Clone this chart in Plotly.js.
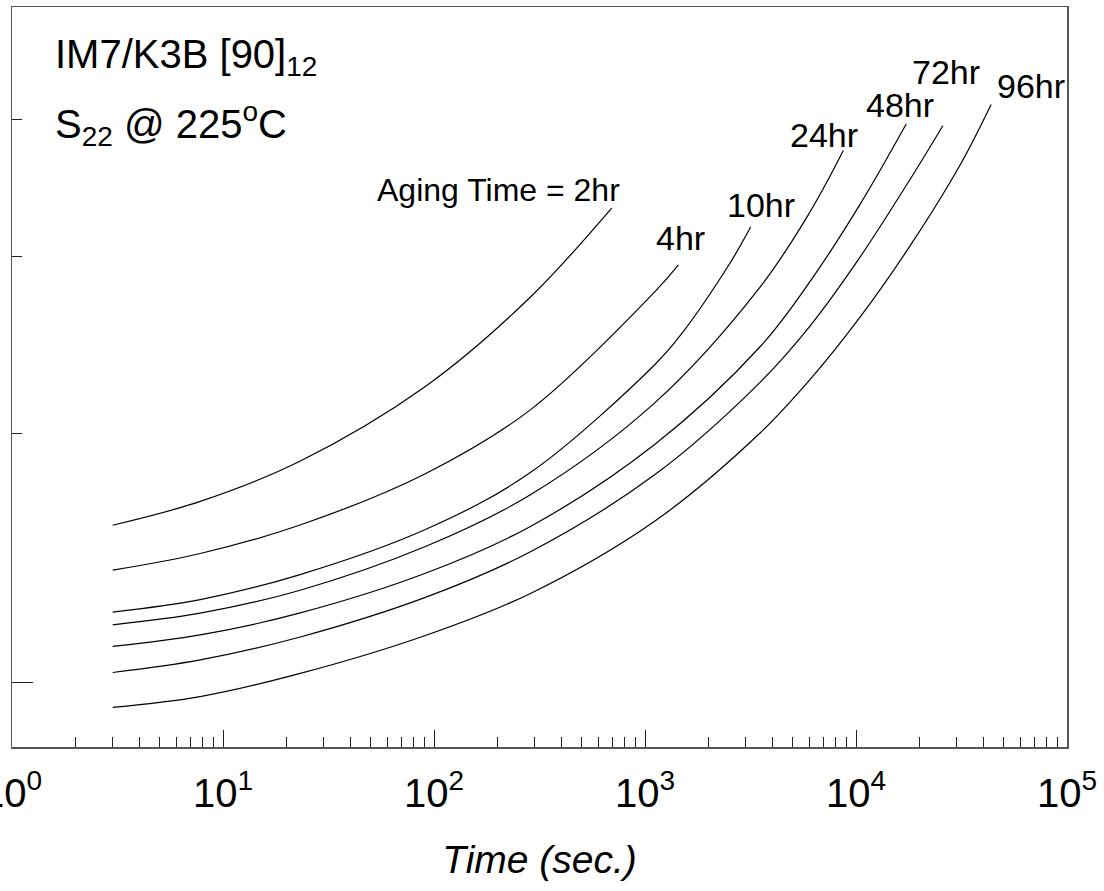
<!DOCTYPE html>
<html>
<head>
<meta charset="utf-8">
<script src="https://cdn.plot.ly/plotly-3.0.1.min.js"></script>
<style>html,body{margin:0;padding:0;background:#fff;}#chart{width:1104px;height:891px;}</style>
</head>
<body>
<div id="chart"></div>
<script>
// Aging times (series names)
const agingLabels = ["2hr", "4hr", "10hr", "24hr", "48hr", "72hr", "96hr"];

// Time (sec.), per curve
const time2hr  = [3, 7.8, 23, 91, 285, 695];
const time4hr  = [3, 7.8, 23, 91, 285, 1115, 1440];
const time10hr = [3, 7.8, 23, 91, 285, 1115, 1470, 2530, 3170];
const time24hr = [3, 7.8, 23, 91, 285, 1115, 3510, 6050, 8710];
const time48hr = [3, 7.8, 23, 91, 285, 1115, 3510, 6050, 10450, 17300];
const time72hr = [3, 7.8, 23, 91, 285, 1115, 3510, 6050, 10450, 18000, 25800];
const time96hr = [3, 7.8, 23, 91, 285, 1115, 3510, 6050, 10450, 18000, 31100, 43700];

// Compliance S22 (arbitrary units, log axis)
const s2hr  = [1.291, 1.342, 1.432, 1.618, 1.870, 2.163];
const s4hr  = [1.200, 1.233, 1.291, 1.404, 1.557, 1.888, 1.972];
const s10hr = [1.121, 1.144, 1.191, 1.282, 1.406, 1.677, 1.758, 1.978, 2.098];
const s24hr = [1.098, 1.119, 1.161, 1.247, 1.356, 1.576, 1.902, 2.149, 2.375];
const s48hr = [1.060, 1.080, 1.119, 1.194, 1.288, 1.473, 1.726, 1.919, 2.176, 2.480];
const s72hr = [1.016, 1.037, 1.076, 1.148, 1.236, 1.402, 1.629, 1.785, 1.997, 2.265, 2.473];
const s96hr = [0.960, 0.977, 1.014, 1.079, 1.155, 1.300, 1.500, 1.636, 1.811, 2.033, 2.319, 2.560];

// Axis ticks
const xTickVals = [1, 10, 100, 1000, 10000, 100000];
const xTickText = ["10<sup>0</sup>", "10<sup>1</sup>", "10<sup>2</sup>", "10<sup>3</sup>", "10<sup>4</sup>", "10<sup>5</sup>"];
const yMajorTicks = [1.0];
const yMinorTicks = [1.5, 2.0, 2.5];

const times = [time2hr, time4hr, time10hr, time24hr, time48hr, time72hr, time96hr];
const vals = [s2hr, s4hr, s10hr, s24hr, s48hr, s72hr, s96hr];

const traces = times.map((t, i) => ({
  x: t, y: vals[i], type: "scatter", mode: "lines", name: agingLabels[i],
  line: {color: "#000", width: 1.2, shape: "spline", smoothing: 1.0},
  hoverinfo: "skip"
}));

const xMinor = [];
for (let d = 0; d < 5; d++) for (let k = 2; k <= 9; k++) xMinor.push(k * Math.pow(10, d));

const FONT = "Liberation Sans, Arial, Helvetica, sans-serif";

// label placements (paper coordinates)
const labelPos = [
  {text: "Aging Time = " + agingLabels[0], x: 0.3441, y: 0.7527, size: 32},
  {text: agingLabels[1], x: 0.6085, y: 0.6872, size: 34},
  {text: agingLabels[2], x: 0.6758, y: 0.7331, size: 34},
  {text: agingLabels[3], x: 0.7355, y: 0.8264, size: 34},
  {text: agingLabels[4], x: 0.8076, y: 0.8682, size: 34},
  {text: agingLabels[5], x: 0.8512, y: 0.9115, size: 34},
  {text: agingLabels[6], x: 0.9318, y: 0.8926, size: 34}
];

const annotations = labelPos.map(p => ({
  text: p.text, xref: "paper", yref: "paper", x: p.x, y: p.y,
  xanchor: "left", yanchor: "middle", showarrow: false,
  font: {family: FONT, size: p.size, color: "#000"}
}));
annotations.push({
  text: "IM7/K3B [90]<sub>12</sub>", xref: "paper", yref: "paper", x: 0.039, y: 0.9324,
  xanchor: "left", yanchor: "middle", showarrow: false,
  font: {family: FONT, size: 40, color: "#000"}
});
annotations.push({
  text: "S<sub>22</sub> @ 225<sup>o</sup>C", xref: "paper", yref: "paper", x: 0.039, y: 0.8425,
  xanchor: "left", yanchor: "middle", showarrow: false,
  font: {family: FONT, size: 40, color: "#000"}
});

const layout = {
  width: 1104, height: 891,
  margin: {l: 12, r: 37, t: 7, b: 144},
  paper_bgcolor: "#fff", plot_bgcolor: "#fff",
  showlegend: false,
  font: {family: FONT, color: "#000"},
  xaxis: {
    type: "log", range: [0, 5], autorange: false,
    showgrid: false, zeroline: false,
    showline: true, linecolor: "#555", linewidth: 1.5, mirror: true,
    ticks: "inside", ticklen: 17, tickwidth: 1, tickcolor: "#222",
    tickmode: "array", tickvals: xTickVals, ticktext: xTickText,
    tickfont: {family: FONT, size: 40, color: "#000"},
    ticklabelstandoff: 10,
    ticklabeloverflow: "allow",
    minor: {ticks: "inside", ticklen: 10, tickwidth: 1, tickcolor: "#222", tickmode: "array", tickvals: xMinor, showgrid: false},
    title: {text: "<i>Time (sec.)</i>", font: {family: FONT, size: 39, color: "#000"}, standoff: 32},
    automargin: false
  },
  yaxis: {
    type: "log", range: [Math.log10(0.9), Math.log10(3.0)], autorange: false,
    showgrid: false, zeroline: false,
    showline: true, linecolor: "#555", linewidth: 1.5, mirror: true,
    ticks: "inside", ticklen: 21, tickwidth: 1, tickcolor: "#222",
    tickmode: "array", tickvals: yMajorTicks, showticklabels: false,
    minor: {ticks: "inside", ticklen: 10, tickwidth: 1, tickcolor: "#222", tickmode: "array", tickvals: yMinorTicks, showgrid: false},
    automargin: false
  },
  annotations: annotations
};

Plotly.newPlot("chart", traces, layout, {displayModeBar: false, staticPlot: true});
</script>
</body>
</html>
